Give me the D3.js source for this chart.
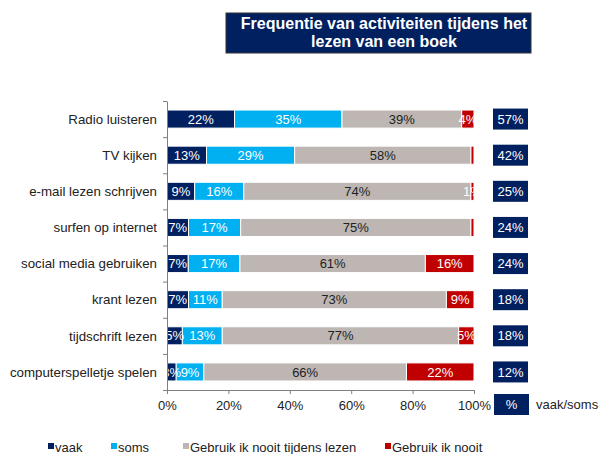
<!DOCTYPE html>
<html>
<head>
<meta charset="utf-8">
<script src="https://cdn.jsdelivr.net/npm/d3@7"></script>
<style>
  body { margin: 0; background: #fff; }
  svg { font-family: "Liberation Sans", Arial, sans-serif; }
</style>
</head>
<body>
<div id="chart"></div>
<script>
// data (percentages)
const categories = ["Radio luisteren", "TV kijken", "e-mail lezen schrijven", "surfen op internet",
  "social media gebruiken", "krant lezen", "tijdschrift lezen", "computerspelletje spelen"];
const vaak = [22, 13, 9, 7, 7, 7, 5, 3];
const soms = [35, 29, 16, 17, 17, 11, 13, 9];
const nooitTijdens = [39, 58, 74, 75, 61, 73, 77, 66];
const nooit = [4, 1, 1, 1, 16, 9, 5, 22];
// red labels that are not shown in the original
const hiddenNooit = ["TV kijken", "surfen op internet"];
const seriesNames = ["vaak", "soms", "Gebruik ik nooit tijdens lezen", "Gebruik ik nooit"];
const xTicks = [0, 20, 40, 60, 80, 100];
const titleLines = ["Frequentie van activiteiten tijdens het", "lezen van een boek"];

const colors = ["#002060", "#00b0f0", "#bdb6b3", "#c00000"];
const labelColors = ["#fff", "#fff", "#222", "#fff"];

const width = 600, height = 454;
const svg = d3.select("#chart").append("svg")
    .attr("width", width)
    .attr("height", height);

// build table for stacking
const table = categories.map((c, i) => ({
  cat: c, s0: vaak[i], s1: soms[i], s2: nooitTijdens[i], s3: nooit[i]
}));
const keys = ["s0", "s1", "s2", "s3"];
const stack = d3.stack().keys(keys).offset(d3.stackOffsetExpand);
const series = stack(table);

const x = d3.scaleLinear().domain([0, 1]).range([167, 474]);
const y = d3.scaleBand().domain(categories).range([101, 390])
    .paddingInner(0.5).paddingOuter(0.25);

// title box
svg.append("rect")
    .attr("x", 226).attr("y", 13).attr("width", 305).attr("height", 40)
    .attr("fill", "#002060").attr("stroke", "#333").attr("stroke-width", 1);
svg.append("text")
    .attr("y", 29)
    .attr("text-anchor", "middle")
    .attr("fill", "#fff").attr("font-weight", "bold").attr("font-size", 16)
  .selectAll("tspan").data(titleLines).join("tspan")
    .attr("x", 384).attr("dy", (d, i) => i ? 18 : 0)
    .text(d => d);

// clip for bar labels
svg.append("clipPath").attr("id", "plotclip")
  .append("rect").attr("x", 167).attr("y", 95).attr("width", 307).attr("height", 300);

// bars
const g = svg.append("g");
g.selectAll("g.series").data(series).join("g")
    .attr("class", "series")
    .attr("fill", (d, i) => colors[i])
  .selectAll("rect").data(d => d).join("rect")
    .attr("x", d => x(d[0]))
    .attr("y", d => y(d.data.cat))
    .attr("width", d => x(d[1]) - x(d[0]))
    .attr("height", y.bandwidth())
    .attr("stroke", "#fff").attr("stroke-width", 1);

// bar labels
const labels = svg.append("g").attr("clip-path", "url(#plotclip)")
    .attr("font-size", 13).attr("text-anchor", "middle");
series.forEach((s, si) => {
  labels.append("g").attr("fill", labelColors[si])
    .selectAll("text").data(s.filter(d => !(si === 3 && hiddenNooit.includes(d.data.cat))))
    .join("text")
      .attr("x", d => (x(d[0]) + x(d[1])) / 2)
      .attr("y", d => y(d.data.cat) + y.bandwidth() / 2)
      .attr("dy", "0.36em")
      .text(d => d.data[keys[si]] + "%");
});

// axes
const yTick = d3.scaleLinear().domain([0, categories.length]).range([101, 390]);
svg.append("g")
    .attr("transform", "translate(167,0)")
    .call(d3.axisLeft(yTick).tickValues(d3.range(categories.length + 1)).tickFormat("").tickSize(4).tickSizeOuter(0))
    .call(a => a.selectAll("line,path").attr("stroke", "#808080"));

const xAxis = d3.scaleLinear().domain([0, 100]).range([167, 474]);
svg.append("g")
    .attr("transform", "translate(0,390)")
    .call(d3.axisBottom(xAxis).tickValues(xTicks).tickFormat(d => d + "%").tickSize(4).tickSizeOuter(0))
    .call(a => a.selectAll("line,path").attr("stroke", "#808080"))
    .call(a => a.selectAll("text").attr("font-size", 13).attr("fill", "#222")
        .attr("font-family", "Liberation Sans, Arial, sans-serif").attr("dy", "1.0em"));

// category labels
svg.append("g").attr("font-size", 13.3).attr("text-anchor", "end").attr("fill", "#222")
  .selectAll("text").data(categories).join("text")
    .attr("x", 157)
    .attr("y", d => y(d) + y.bandwidth() / 2)
    .attr("dy", "0.36em")
    .text(d => d);

// vaak/soms boxes on the right
const boxes = svg.append("g");
boxes.selectAll("rect").data(table).join("rect")
    .attr("x", 493).attr("width", 35)
    .attr("y", d => y(d.cat) + y.bandwidth() / 2 - 10.5)
    .attr("height", 21)
    .attr("fill", "#002060");
boxes.selectAll("text").data(table).join("text")
    .attr("x", 510.5)
    .attr("y", d => y(d.cat) + y.bandwidth() / 2)
    .attr("dy", "0.36em")
    .attr("text-anchor", "middle").attr("fill", "#fff").attr("font-size", 13)
    .text(d => (d.s0 + d.s1) + "%");

svg.append("rect").attr("x", 494).attr("y", 394).attr("width", 35).attr("height", 21)
    .attr("fill", "#002060");
svg.append("text").attr("x", 511.5).attr("y", 409).attr("text-anchor", "middle")
    .attr("fill", "#fff").attr("font-size", 13).text("%");
svg.append("text").attr("x", 536).attr("y", 409)
    .attr("fill", "#222").attr("font-size", 13).text("vaak/soms");

// legend
const legendX = [48, 111, 183, 385];
const legend = svg.append("g").attr("font-size", 13).attr("fill", "#222");
seriesNames.forEach((name, i) => {
  legend.append("rect").attr("x", legendX[i]).attr("y", 443).attr("width", 6).attr("height", 6)
      .attr("fill", colors[i]);
  legend.append("text").attr("x", legendX[i] + 7).attr("y", 452).text(name);
});
</script>
</body>
</html>
